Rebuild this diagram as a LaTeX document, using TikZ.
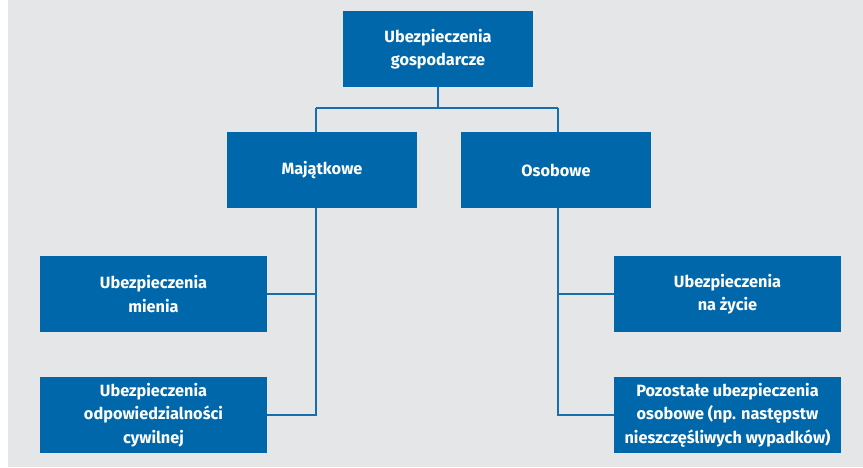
\documentclass[tikz,border=0pt]{standalone}
\usepackage{fontspec}
\setmainfont{Fira Sans}
\definecolor{bgc}{HTML}{E5E6E8}
\definecolor{boxc}{HTML}{0068AA}
\definecolor{linec}{HTML}{176EAD}
\begin{document}
\begin{tikzpicture}[x=1pt,y=-1pt,
  box/.style={rectangle,fill=boxc,text=white,align=center,inner sep=0pt,
    font=\fontsize{16.3}{23.5}\selectfont\bfseries},
  small/.style={box,minimum width=190pt,minimum height=76pt},
  wide/.style={box,minimum width=227pt,minimum height=76pt},
  conn/.style={draw=linec,line width=2.4pt}]
\useasboundingbox (0,0) rectangle (863,468);
\fill[white] (0,0) rectangle (863,468);
\fill[bgc] (8,0) rectangle (863,467);
\node[small] (top) at (438,49) {Ubezpieczenia\\gospodarcze};
\node[small] (maj) at (322,170) {Majątkowe};
\node[small] (oso) at (556,170) {Osobowe};
\node[wide] (l1) at (153.5,294) {Ubezpieczenia\\mienia};
\node[wide] (l2) at (153.5,415) {Ubezpieczenia\\odpowiedzialności\\cywilnej};
\node[wide] (r1) at (727.5,294) {Ubezpieczenia\\na życie};
\node[wide] (r2) at (727.5,415) {Pozostałe ubezpieczenia\\osobowe (np. następstw\\nieszczęśliwych wypadków)};
\coordinate (hC) at (438,108);
\coordinate (hL) at (316,108);
\coordinate (hR) at (558,108);
\draw[conn] (top.south) -- (hC);
\draw[conn] (hL) -- (hR);
\draw[conn] (hL) -- (hL |- maj.north);
\draw[conn] (hR) -- (hR |- oso.north);
\draw[conn] (hL |- maj.south) -- (hL |- l2.east) -- (l2.east);
\draw[conn] (hL |- l1.east) -- (l1.east);
\draw[conn] (hR |- oso.south) -- (hR |- r2.west) -- (r2.west);
\draw[conn] (hR |- r1.west) -- (r1.west);
\end{tikzpicture}
\end{document}
